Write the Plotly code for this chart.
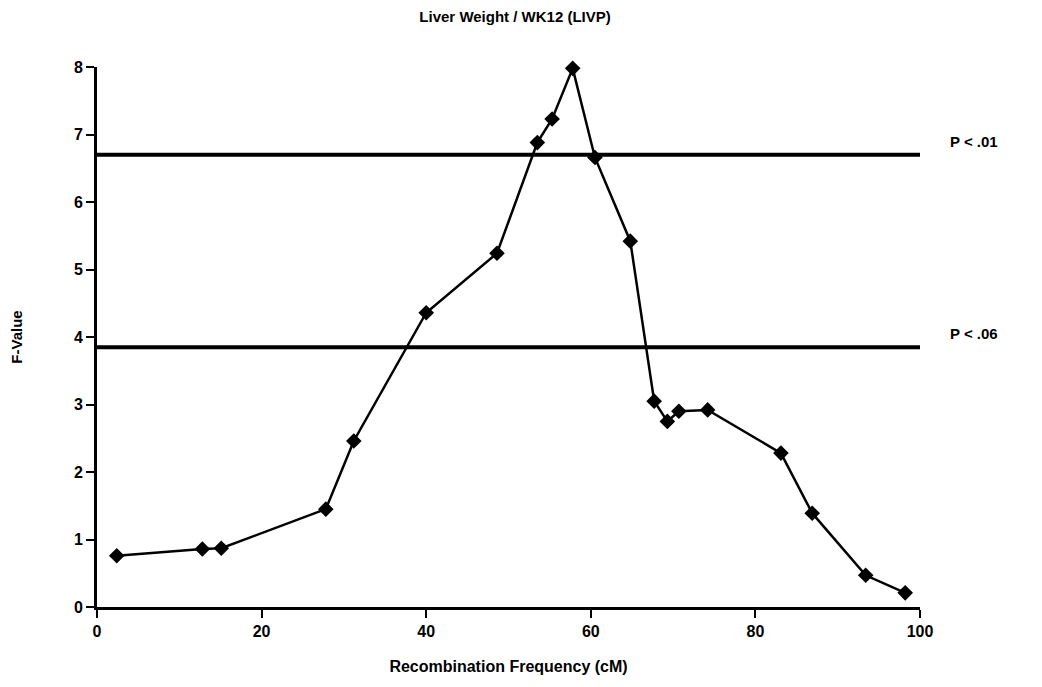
import plotly.graph_objects as go

# Data
rec_freq = [2.4, 12.8, 15.1, 27.8, 31.2, 40.0, 48.6, 53.5, 55.3, 57.8, 60.5, 64.8,
            67.7, 69.3, 70.7, 74.2, 83.1, 86.9, 93.4, 98.2]
f_value = [0.76, 0.86, 0.87, 1.45, 2.46, 4.36, 5.24, 6.88, 7.23, 7.98, 6.66, 5.42,
           3.05, 2.75, 2.9, 2.92, 2.28, 1.39, 0.47, 0.21]

threshold_labels = ["P < .01", "P < .06"]
threshold_values = [6.70, 3.85]
threshold_x = [0, 100]

x_ticks = [0, 20, 40, 60, 80, 100]
y_ticks = [0, 1, 2, 3, 4, 5, 6, 7, 8]

FONT = "Liberation Sans, Arial, sans-serif"

fig = go.Figure()

for lab, val in zip(threshold_labels, threshold_values):
    fig.add_trace(go.Scatter(
        x=threshold_x, y=[val, val], mode="lines",
        line=dict(color="black", width=4), showlegend=False,
        hoverinfo="skip", name=lab, cliponaxis=False))

fig.add_trace(go.Scatter(
    x=rec_freq, y=f_value, mode="lines+markers",
    line=dict(color="black", width=2.5),
    marker=dict(symbol="diamond", size=12, color="black"),
    showlegend=False, cliponaxis=False, name="F-Value"))

for lab, val in zip(threshold_labels, threshold_values):
    fig.add_annotation(
        x=1.097, xref="paper", y=val + 0.2, yref="y",
        text="<b>%s</b>" % lab, showarrow=False,
        font=dict(family=FONT, size=15, color="black"))

fig.update_layout(
    width=1042, height=687,
    margin=dict(l=97, r=122, t=67, b=80),
    paper_bgcolor="white", plot_bgcolor="white",
    title=dict(text="<b>Liver Weight / WK12 (LIVP)</b>", x=0.508, xanchor="center",
               xref="paper", y=0.975, yanchor="middle",
               font=dict(family=FONT, size=15, color="black")),
    font=dict(family=FONT, color="black"),
)

fig.update_xaxes(
    range=[0, 100], tickvals=x_ticks, ticktext=["<b>%d</b>" % v for v in x_ticks],
    ticks="outside", ticklen=8, tickwidth=2, tickcolor="black",
    showline=True, linecolor="black", linewidth=3, showgrid=False, zeroline=False,
    tickfont=dict(family=FONT, size=16, color="black"),
    title=dict(text="<b>Recombination Frequency (cM)</b>", standoff=22,
               font=dict(family=FONT, size=16, color="black")))

fig.update_yaxes(
    range=[0, 8], tickvals=y_ticks, ticktext=["<b>%d</b>" % v for v in y_ticks],
    ticks="outside", ticklen=8, tickwidth=2, tickcolor="black",
    showline=True, linecolor="black", linewidth=3, showgrid=False, zeroline=False,
    tickfont=dict(family=FONT, size=16, color="black"),
    title=dict(text="<b>F-Value</b>", standoff=48,
               font=dict(family=FONT, size=15, color="black")))

fig.write_html("out.html")
